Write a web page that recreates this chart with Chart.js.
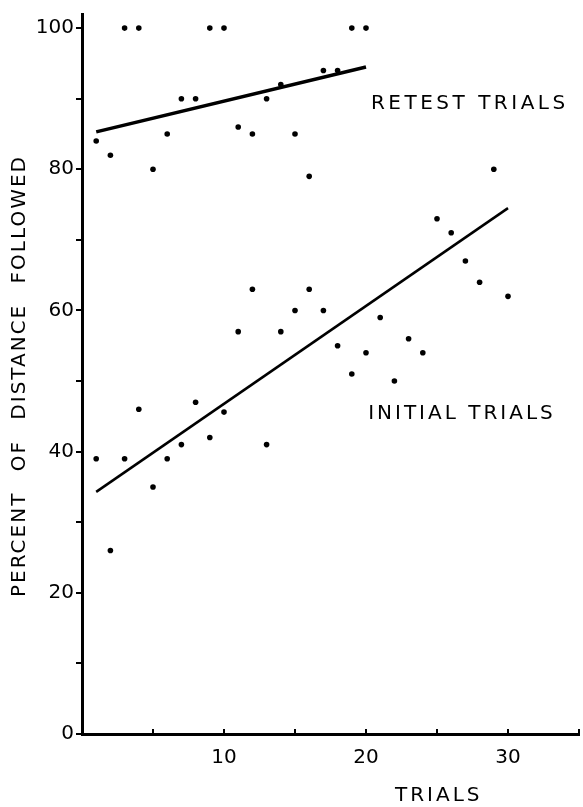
<!DOCTYPE html>
<html>
<head>
<meta charset="utf-8">
<script src="https://cdn.jsdelivr.net/npm/chart.js@4"></script>
<style>
  html, body { margin: 0; padding: 0; background: #fff; overflow: hidden; }
  #wrap { width: 583px; height: 807px; position: relative; }
  canvas { display: block; }
</style>
</head>
<body>
<div id="wrap"><canvas id="chart"></canvas></div>
<script>
// Initial trials: trial number and percent of distance followed
const initialTrials = [1, 2, 3, 4, 5, 6, 7, 8, 9, 10, 11, 12, 13, 14, 15, 16, 17, 18, 19, 20, 21, 22, 23, 24, 25, 26, 27, 28, 29, 30];
const initialPct = [39, 26, 39, 46, 35, 39, 41, 47, 42, 45.6, 57, 63, 41, 57, 60, 63, 60, 55, 51, 54, 59, 50, 56, 54, 73, 71, 67, 64, 80, 62];

// Retest trials
const retestTrials = [1, 2, 3, 4, 5, 6, 7, 8, 9, 10, 11, 12, 13, 14, 15, 16, 17, 18, 19, 20];
const retestPct = [84, 82, 100, 100, 80, 85, 90, 90, 100, 100, 86, 85, 90, 92, 85, 79, 94, 94, 100, 100];

// Fitted lines (end points)
const initialFitX = [1, 30];
const initialFitY = [34.3, 74.5];
const retestFitX = [1, 20];
const retestFitY = [85.3, 94.5];

// Axis ticks
const xTickLabels = [10, 20, 30];
const yTickLabels = [0, 20, 40, 60, 80, 100];

const FONT = '"DejaVu Sans", sans-serif';

function pairs(xs, ys) {
    return xs.map((x, i) => ({ x: x, y: ys[i] }));
}

// draws the small upward ticks on the x axis and the text labels
const lettering = {
    id: 'lettering',
    afterDraw(chart) {
        const ctx = chart.ctx;
        const xs = chart.scales.x;
        const ys = chart.scales.y;
        const bottom = ys.getPixelForValue(0);
        ctx.save();
        ctx.strokeStyle = '#000';
        ctx.lineWidth = 2;
        for (let v = 5; v <= 35; v += 5) {
            const px = xs.getPixelForValue(v);
            ctx.beginPath();
            ctx.moveTo(px, bottom);
            ctx.lineTo(px, bottom - 5);
            ctx.stroke();
        }

        ctx.fillStyle = '#000';
        ctx.font = '20px ' + FONT;
        ctx.textBaseline = 'alphabetic';
        ctx.textAlign = 'left';
        ctx.letterSpacing = '3.5px';
        ctx.fillText('RETEST TRIALS', xs.getPixelForValue(20.35), ys.getPixelForValue(88.6));
        ctx.letterSpacing = '3px';
        ctx.fillText('INITIAL TRIALS', xs.getPixelForValue(20.15), ys.getPixelForValue(44.6));
        ctx.letterSpacing = '3px';
        ctx.fillText('TRIALS', 395, 801);

        // y axis title
        ctx.translate(25, 597);
        ctx.rotate(-Math.PI / 2);
        ctx.letterSpacing = '2px';
        ctx.wordSpacing = '12px';
        ctx.fillText('PERCENT OF DISTANCE FOLLOWED', 0, 0);
        ctx.restore();
    }
};

const ctx = document.getElementById('chart').getContext('2d');
const chart = new Chart(ctx, {
    type: 'scatter',
    data: {
        datasets: [
            {
                label: 'Initial trials',
                data: pairs(initialTrials, initialPct),
                backgroundColor: '#000',
                borderWidth: 0,
                pointRadius: 2.8
            },
            {
                label: 'Retest trials',
                data: pairs(retestTrials, retestPct),
                backgroundColor: '#000',
                borderWidth: 0,
                pointRadius: 2.8
            },
            {
                type: 'line',
                label: 'Initial fit',
                data: pairs(initialFitX, initialFitY),
                borderColor: '#000',
                borderWidth: 2.5,
                pointRadius: 0
            },
            {
                type: 'line',
                label: 'Retest fit',
                data: pairs(retestFitX, retestFitY),
                borderColor: '#000',
                borderWidth: 3.5,
                pointRadius: 0
            }
        ]
    },
    options: {
        responsive: true,
        maintainAspectRatio: false,
        animation: false,
        layout: { padding: { top: 10, right: -4, left: 0, bottom: 0 } },
        plugins: {
            legend: { display: false },
            tooltip: { enabled: false }
        },
        scales: {
            x: {
                type: 'linear',
                min: 0,
                max: 35,
                // invisible tick marks only push the labels down; the real ticks point up (plugin)
                grid: {
                    drawOnChartArea: false,
                    drawTicks: true,
                    tickLength: 12,
                    color: 'rgba(0,0,0,0)'
                },
                border: { display: true, color: '#000', width: 3 },
                ticks: {
                    stepSize: 5,
                    padding: 0,
                    color: '#000',
                    font: { family: FONT, size: 20 },
                    callback: v => xTickLabels.includes(v) ? String(v) : ''
                },
                afterFit: scale => {
                    scale.height = 73;
                    scale.paddingLeft = 0;
                    scale.paddingRight = 0;
                }
            },
            y: {
                min: 0,
                max: 102,
                grid: {
                    drawOnChartArea: false,
                    drawTicks: true,
                    tickLength: 6,
                    color: '#000',
                    lineWidth: 2
                },
                border: { display: true, color: '#000', width: 3 },
                ticks: {
                    stepSize: 10,
                    includeBounds: false,
                    padding: 2,
                    color: '#000',
                    font: { family: FONT, size: 20 },
                    callback: v => yTickLabels.includes(v) ? String(v) : ''
                },
                afterBuildTicks: scale => {
                    scale.ticks = scale.ticks.filter(t => t.value <= 100);
                },
                afterFit: scale => { scale.width = 82; }
            }
        }
    },
    plugins: [lettering]
});
</script>
</body>
</html>
